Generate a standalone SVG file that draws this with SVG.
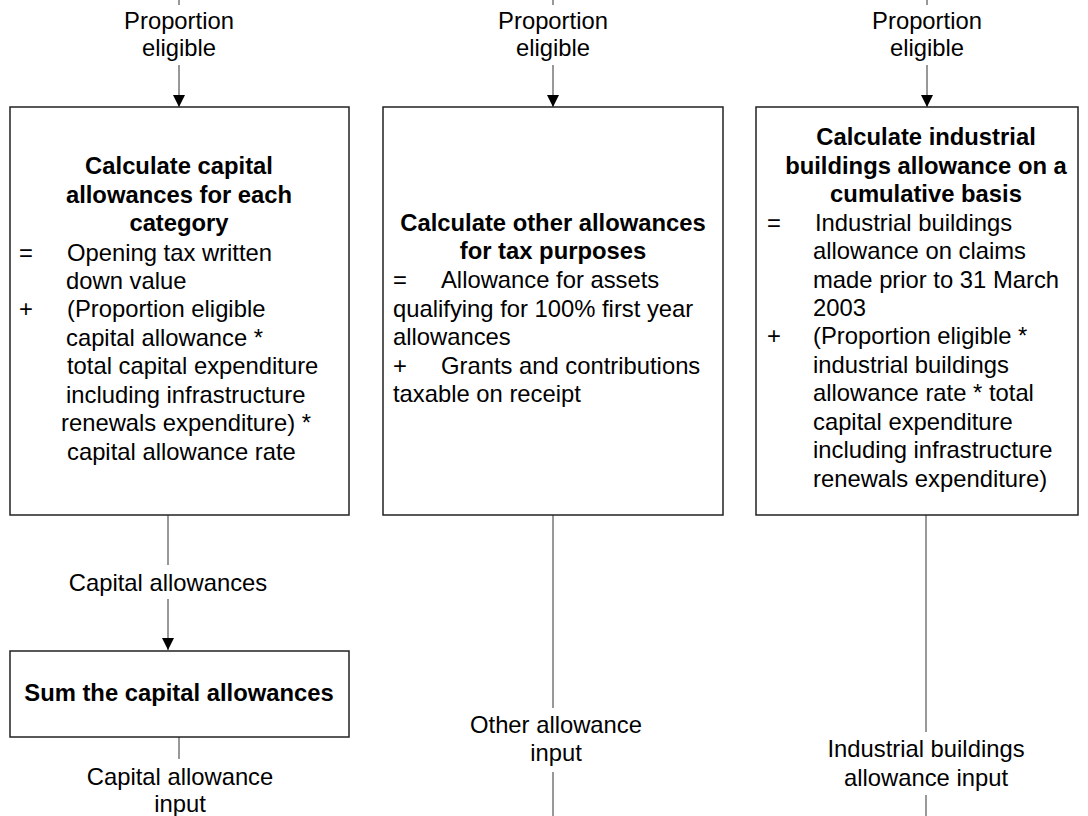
<svg xmlns="http://www.w3.org/2000/svg" width="1088" height="816" viewBox="0 0 1088 816">
  <defs>
    <marker id="arrow" viewBox="0 0 12 12" refX="12" refY="6" markerWidth="12" markerHeight="12" markerUnits="userSpaceOnUse" orient="auto">
      <path d="M0,0 L12,6 L0,12 Z" fill="#000"/>
    </marker>
  </defs>
  <style>
    .box { fill: #fff; stroke: #222; stroke-width: 1.5; }
    .line { fill: none; stroke: #333; stroke-width: 1; }
    text { font-family: "Liberation Sans", Arial, sans-serif; font-size: 23.8px; fill: #000; }
    .title { font-weight: bold; text-anchor: middle; }
    .mid { text-anchor: middle; }
  </style>
  <rect width="1088" height="816" fill="#fff"/>

  <!-- connectors -->
  <g id="connectors">
    <line class="line" x1="179" y1="0" x2="179" y2="5"/>
    <line class="line" x1="179" y1="65" x2="179" y2="107" marker-end="url(#arrow)"/>
    <line class="line" x1="553" y1="0" x2="553" y2="5"/>
    <line class="line" x1="553" y1="65" x2="553" y2="107" marker-end="url(#arrow)"/>
    <line class="line" x1="927" y1="0" x2="927" y2="5"/>
    <line class="line" x1="927" y1="65" x2="927" y2="107" marker-end="url(#arrow)"/>

    <line class="line" x1="168" y1="515" x2="168" y2="565"/>
    <line class="line" x1="168" y1="599" x2="168" y2="650" marker-end="url(#arrow)"/>
    <line class="line" x1="179" y1="737" x2="179" y2="759"/>

    <line class="line" x1="553" y1="515" x2="553" y2="708"/>
    <line class="line" x1="553" y1="772" x2="553" y2="816"/>

    <line class="line" x1="926" y1="515" x2="926" y2="732"/>
    <line class="line" x1="926" y1="795" x2="926" y2="816"/>

    <text class="mid" x="179" y="29">Proportion</text>
    <text class="mid" x="179" y="56">eligible</text>
    <text class="mid" x="553" y="29">Proportion</text>
    <text class="mid" x="553" y="56">eligible</text>
    <text class="mid" x="927" y="29">Proportion</text>
    <text class="mid" x="927" y="56">eligible</text>

    <text class="mid" x="168" y="591">Capital allowances</text>
    <text class="mid" x="180" y="785">Capital allowance</text>
    <text class="mid" x="180" y="812">input</text>

    <text class="mid" x="556" y="733">Other allowance</text>
    <text class="mid" x="556" y="761">input</text>

    <text class="mid" x="926" y="757">Industrial buildings</text>
    <text class="mid" x="926" y="786">allowance input</text>
  </g>

  <!-- capital allowances calculation -->
  <g id="calc-capital">
    <rect class="box" x="10" y="107" width="339" height="408"/>
    <text class="title" x="179" y="174">Calculate capital</text>
    <text class="title" x="179" y="203">allowances for each</text>
    <text class="title" x="179" y="231">category</text>
    <text x="19" y="261">=</text>
    <text x="67" y="261">Opening tax written</text>
    <text x="66" y="289">down value</text>
    <text x="19" y="317">+</text>
    <text x="67" y="317">(Proportion eligible</text>
    <text x="66" y="346">capital allowance *</text>
    <text x="67" y="374">total capital expenditure</text>
    <text x="66" y="403">including infrastructure</text>
    <text x="61" y="431">renewals expenditure) *</text>
    <text x="67" y="460">capital allowance rate</text>
  </g>

  <!-- other allowances calculation -->
  <g id="calc-other">
    <rect class="box" x="383" y="107" width="340" height="408"/>
    <text class="title" x="553" y="231">Calculate other allowances</text>
    <text class="title" x="553" y="259">for tax purposes</text>
    <text x="393" y="288">=</text>
    <text x="441" y="288">Allowance for assets</text>
    <text x="393" y="317">qualifying for 100% first year</text>
    <text x="393" y="345">allowances</text>
    <text x="393" y="374">+</text>
    <text x="441" y="374">Grants and contributions</text>
    <text x="393" y="402">taxable on receipt</text>
  </g>

  <!-- industrial buildings allowance calculation -->
  <g id="calc-industrial">
    <rect class="box" x="756" y="107" width="322" height="408"/>
    <text class="title" x="926" y="145">Calculate industrial</text>
    <text class="title" x="926" y="174">buildings allowance on a</text>
    <text class="title" x="926" y="202">cumulative basis</text>
    <text x="767" y="231">=</text>
    <text x="815" y="231">Industrial buildings</text>
    <text x="813" y="259">allowance on claims</text>
    <text x="813" y="288">made prior to 31 March</text>
    <text x="813" y="316">2003</text>
    <text x="767" y="344">+</text>
    <text x="813" y="344">(Proportion eligible *</text>
    <text x="813" y="373">industrial buildings</text>
    <text x="813" y="401">allowance rate * total</text>
    <text x="813" y="430">capital expenditure</text>
    <text x="813" y="458">including infrastructure</text>
    <text x="813" y="487">renewals expenditure)</text>
  </g>

  <!-- sum of capital allowances -->
  <g id="sum-capital">
    <rect class="box" x="10" y="651" width="339" height="86"/>
    <text class="title" x="179" y="701">Sum the capital allowances</text>
  </g>
</svg>
